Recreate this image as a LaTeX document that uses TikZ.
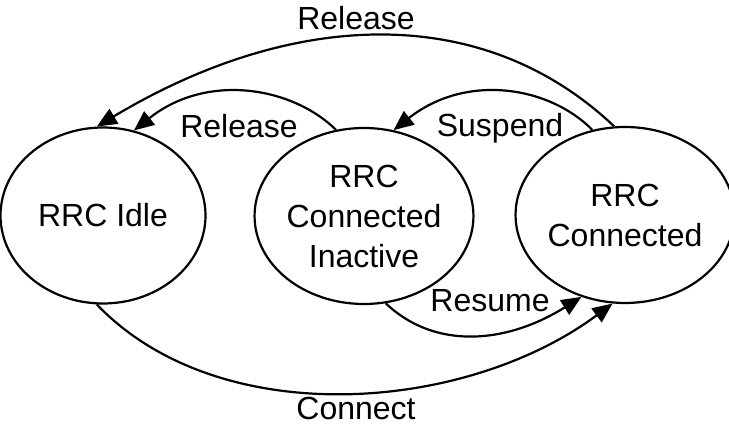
\documentclass[tikz,border=0pt]{standalone}
\usepackage{fontspec}
\setmainfont{Liberation Sans}
\usetikzlibrary{shapes.geometric,arrows.meta}
\begin{document}
\begin{tikzpicture}[x=1pt,y=-1pt,
  state/.style={draw, ellipse, line width=2.2pt, inner sep=0pt, minimum width=205pt, minimum height=176pt, align=center, font=\fontsize{32}{40}\selectfont},
  trans/.style={line width=2.2pt, -{Triangle[length=20pt,width=17pt]}},
  lbl/.style={font=\fontsize{32}{40}\selectfont, anchor=base, inner sep=0pt}]
\useasboundingbox (0,0) rectangle (729,427);
\node[state] (idle) at (103,215.5) {RRC Idle};
\node[state] (inact) at (364,216) {RRC\\Connected\\Inactive};
\node[state] (conn) at (625,215) {RRC\\Connected};
\draw[trans] (conn.97) .. controls (483,2) and (293,9) .. (idle.94);
\draw[trans] (inact.108) .. controls (291,86) and (206,73) .. (idle.70);
\draw[trans] (conn.111) .. controls (549,86) and (466,73) .. (inact.71);
\draw[trans] (inact.-76) .. controls (436,351) and (508,343) .. (conn.-118);
\draw[trans] (idle.-94) .. controls (219,432) and (465,413) .. (conn.-98);
\node[lbl] (l1) at (356,30) {Release};
\node[lbl] (l2) at (239,138) {Release};
\node[lbl] (l3) at (500,137) {Suspend};
\node[lbl] (l4) at (490,312) {Resume};
\node[lbl] (l5) at (356,420) {Connect};
\end{tikzpicture}
\end{document}
